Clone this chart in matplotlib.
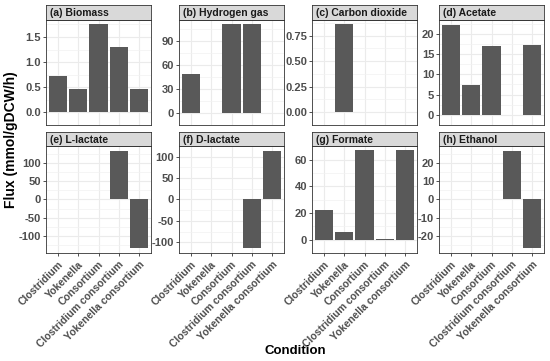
import numpy as np
import matplotlib
matplotlib.use("Agg")
import matplotlib.pyplot as plt

plt.rcParams['font.family'] = ['Liberation Sans', 'DejaVu Sans']

conditions = ["Clostridium", "Yokenella", "Consortium",
              "Clostridium consortium", "Yokenella consortium"]

titles = ["(a) Biomass", "(b) Hydrogen gas", "(c) Carbon dioxide", "(d) Acetate",
          "(e) L-lactate", "(f) D-lactate", "(g) Formate", "(h) Ethanol"]

biomass = [0.72, 0.46, 1.75, 1.30, 0.46]
hydrogen = [49, 0, 111, 111, 0]
co2 = [0, 0.86, 0, 0, 0]
acetate = [22.3, 7.3, 17.1, 0.08, 17.2]
l_lactate = [0, 0, 0, 133, -133]
d_lactate = [0, 0, 0, -113, 113]
formate = [22, 5.7, 67, 0.15, 67]
ethanol = [0, 0, 0, 27, -27]

series = [biomass, hydrogen, co2, acetate, l_lactate, d_lactate, formate, ethanol]

yticks = [[0, 0.5, 1.0, 1.5],
          [0, 30, 60, 90],
          [0, 0.25, 0.5, 0.75],
          [0, 5, 10, 15, 20],
          [-100, -50, 0, 50, 100],
          [-100, -50, 0, 50, 100],
          [0, 20, 40, 60],
          [-20, -10, 0, 10, 20]]
yfmt = ["{:.1f}", "{:.0f}", "{:.2f}", "{:.0f}", "{:.0f}", "{:.0f}", "{:.0f}", "{:.0f}"]

W, H = 550, 361
fig = plt.figure(figsize=(5.5, 3.61), dpi=100)

lefts = [46, 179, 312, 439]
pw = 105
rows = [(20, 125, 5), (146, 253, 132)]  # plot top, plot bottom, strip top

x = np.arange(len(conditions))
for i, (vals, title) in enumerate(zip(series, titles)):
    r, c = divmod(i, 4)
    ptop, pbot, stop = rows[r]
    l = lefts[c]
    ax = fig.add_axes([l / W, 1 - pbot / H, pw / W, (pbot - ptop) / H])
    ax.set_facecolor("white")
    ax.bar(x, vals, width=0.9, color="#595959", edgecolor="none", zorder=3)
    lo = min(0, min(vals))
    hi = max(0, max(vals))
    pad = (hi - lo) * 0.05
    ax.set_ylim(lo - pad, hi + pad)
    ax.set_xlim(-0.6, 4.6)
    yt = yticks[i]
    ax.set_yticks(yt)
    ax.set_yticklabels([yfmt[i].format(v) for v in yt])
    step = yt[1] - yt[0]
    minor = [v + step / 2 for v in [yt[0] - step] + yt]
    ax.set_yticks(minor, minor=True)
    ax.set_xticks(x)
    ax.grid(True, which="major", color="#EBEBEB", linewidth=0.8, zorder=0)
    ax.grid(True, which="minor", axis="y", color="#F2F2F2", linewidth=0.5, zorder=0)
    ax.set_axisbelow(True)
    for s in ax.spines.values():
        s.set_color("#333333")
        s.set_linewidth(0.6)
    ax.tick_params(axis="y", which="major", length=2.5, width=0.6, color="#333333",
                   labelsize=8, labelcolor="#4D4D4D", pad=1)
    ax.tick_params(axis="y", which="minor", length=0)
    for t in ax.get_yticklabels():
        t.set_fontweight("bold")
    if r == 1:
        ax.set_xticklabels(conditions, rotation=45, ha="right", rotation_mode="anchor",
                           fontsize=7.5, color="#4D4D4D", fontweight="bold")
        ax.tick_params(axis="x", length=2.5, width=0.6, color="#333333", pad=2)
    else:
        ax.tick_params(axis="x", length=0, labelbottom=False)

    sax = fig.add_axes([l / W, 1 - ptop / H, pw / W, (ptop - stop) / H])
    sax.set_facecolor("#D9D9D9")
    sax.set_xticks([])
    sax.set_yticks([])
    for s in sax.spines.values():
        s.set_color("#333333")
        s.set_linewidth(0.6)
    sax.text(0.035, 0.45, title, transform=sax.transAxes, ha="left", va="center",
             fontsize=7.5, fontweight="bold", color="#1A1A1A")

fig.text(11 / W, 1 - 140 / H, "Flux (mmol/gDCW/h)", rotation=90, ha="center", va="center",
         fontsize=10, fontweight="bold")
fig.text(295 / W, 1 - 351 / H, "Condition", ha="center", va="center",
         fontsize=9.5, fontweight="bold")

fig.savefig("out.png", dpi=100)
